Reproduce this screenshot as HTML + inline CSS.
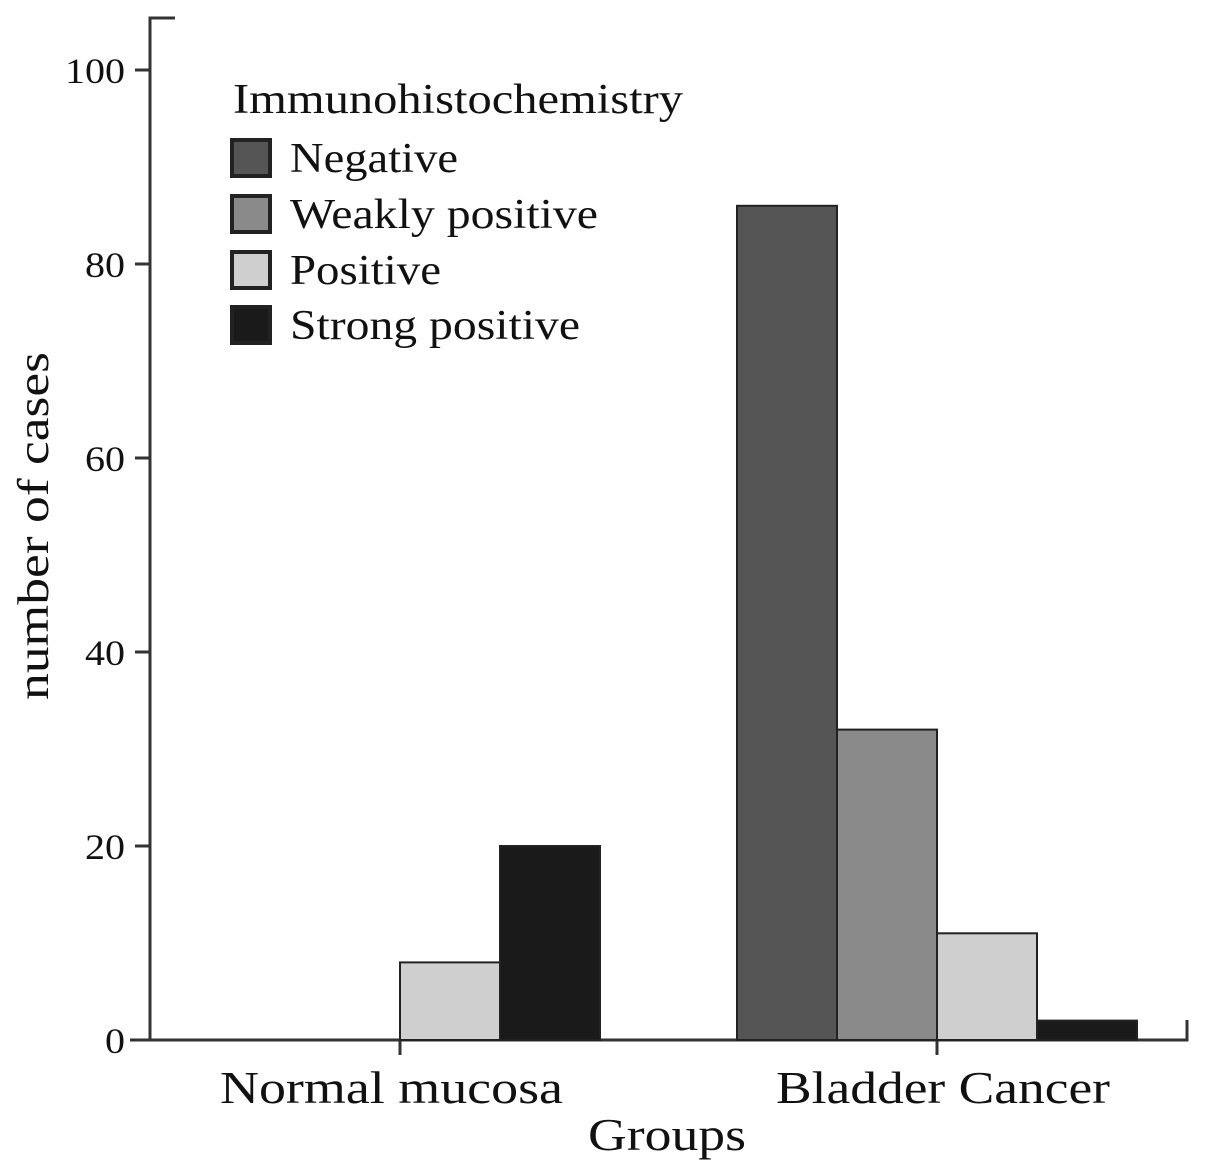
<!DOCTYPE html>
<html><head><meta charset="utf-8"><style>
html,body{margin:0;padding:0;background:#fff;}
svg text{font-family:"Liberation Serif",serif;fill:#111;}
</style></head><body>
<svg width="1205" height="1166" viewBox="0 0 1205 1166">
<g id="axes"></g>
<g id="bars"></g>
<g id="legend"></g>
</svg>
<script>
const categories = ["Normal mucosa", "Bladder Cancer"];
const seriesNames = ["Negative", "Weakly positive", "Positive", "Strong positive"];
const negative = [0, 86];
const weaklyPositive = [0, 32];
const positive = [8, 11];
const strongPositive = [20, 2];
const yTicks = [0, 20, 40, 60, 80, 100];
const colors = ["#555555", "#8a8a8a", "#cfcfcf", "#1a1a1a"];

const NS = "http://www.w3.org/2000/svg";
function mk(tag, attrs, parent, text){
  const e = document.createElementNS(NS, tag);
  for (const k in attrs) e.setAttribute(k, attrs[k]);
  if (text !== undefined) e.textContent = text;
  parent.appendChild(e);
  return e;
}
const y = v => 1040 - v * 9.7;
const groupCenters = [400, 937];
const barW = 100;
const x = (gi, si) => groupCenters[gi] - 2 * barW + si * barW;
const SX = 1.23;
const fit = (s, fs) => Math.round(s.length ? s.length * 0 : 0); // unused helper

const axes = document.getElementById('axes');
const bars = document.getElementById('bars');
const legend = document.getElementById('legend');

let l = mk('path', {d:"M175 18 H150 V1040 M130 1040 H1187 V1020", fill:"none", stroke:"#333", "stroke-width":3}, axes);


yTicks.forEach(t => {
  const tk = mk('line', {x1:135, x2:150, y1:y(t), y2:y(t), stroke:"#333", "stroke-width":3}, axes);
  
  
  const s = String(t);
  const tl = mk('text', {x:125, y:y(t)+13, "text-anchor":"end", "font-size":36, textLength:s.length*20, lengthAdjust:"spacingAndGlyphs"}, axes, s);
  
  
});
const catW = [343, 334];
const catX = [220, 776];
categories.forEach((c, i) => {
  const tk = mk('line', {x1:groupCenters[i], x2:groupCenters[i], y1:1040, y2:1055, stroke:"#333", "stroke-width":3}, axes);
  
  
  const tl = mk('text', {x:catX[i], y:1103, "font-size":46, textLength:catW[i], lengthAdjust:"spacingAndGlyphs"}, axes, c);
  
  
});
let t = mk('text', {x:588, y:1150, "font-size":46, textLength:158, lengthAdjust:"spacingAndGlyphs"}, axes, "Groups");


t = mk('text', {x:-700, y:48, "font-size":44, textLength:348, lengthAdjust:"spacingAndGlyphs", transform:"rotate(-90)"}, axes, "number of cases");



const series = [negative, weaklyPositive, positive, strongPositive];
series.forEach((vals, si) => {
  vals.forEach((v, gi) => {
    if (v <= 0) return;
    const r = mk('rect', {x:x(gi, si), y:y(v), width:barW, height:1040 - y(v), fill:colors[si], stroke:"#222", "stroke-width":2}, bars);
    
    
  });
});

t = mk('text', {x:233, y:113, "font-size":42, textLength:450, lengthAdjust:"spacingAndGlyphs"}, legend, "Immunohistochemistry");


const ly = [140, 196, 252, 307];
const lw = [168, 308, 151, 290];
seriesNames.forEach((n, i) => {
  const r = mk('rect', {x:232, y:ly[i], width:38, height:36, fill:colors[i], stroke:"#222", "stroke-width":4}, legend);
  
  
  const tx = mk('text', {x:290, y:ly[i]+32, "font-size":42, textLength:lw[i], lengthAdjust:"spacingAndGlyphs"}, legend, n);
  
  
});
</script>
</body></html>
